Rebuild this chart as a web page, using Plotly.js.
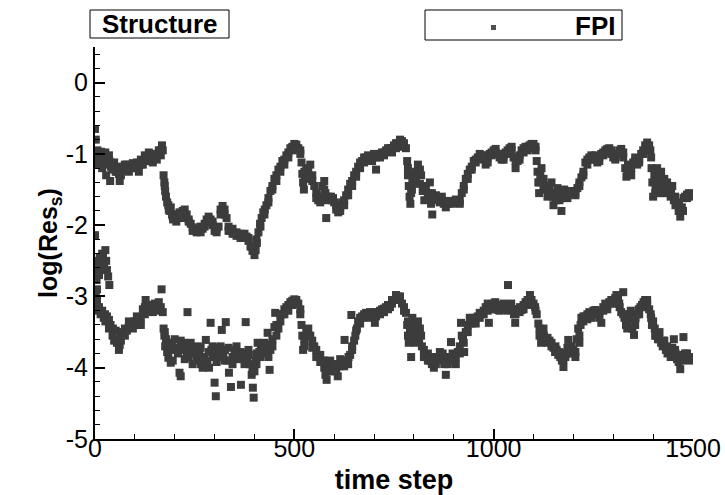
<!DOCTYPE html>
<html>
<head>
<meta charset="utf-8">
<script src="https://cdn.plot.ly/plotly-3.0.1.min.js"></script>
<style>
html,body{margin:0;padding:0;background:#fff;}
#chart{width:725px;height:495px;}
</style>
</head>
<body>
<div id="chart"></div>
<script>
// ---- data ----
const xTickVals = [0, 500, 1000, 1500];
const yTickVals = [-5, -4, -3, -2, -1, 0];
const legendLabels = ["Structure", "FPI"];

// upper residual band (time step, log value)
const upperT = [0,2,4,6,8,10,12,15,18,20,23,26,28,30,33,36,38,40,44,48,52,56,60,62,65,70,75,80,85,90,95,100,105,110,115,120,125,130,135,140,145,150,155,160,165,168,170,
172,174,176,178,181,184,187,190,193,196,200,204,208,212,216,220,225,230,235,240,245,250,255,260,265,270,275,280,285,290,295,300,305,310,315,320,325,330,335,340,345,350,355,360,365,370,375,380,385,390,395,400,
403,406,410,414,418,422,426,430,435,440,445,450,455,460,465,470,475,480,485,490,495,500,505,510,515,518,520,522,524,527,530,535,540,545,550,555,560,565,570,575,578,580,583,587,592,597,600,605,610,615,620,625,630,635,640,645,650,655,660,665,670,675,680,685,690,695,700,705,710,715,720,725,730,735,740,745,750,755,760,765,770,775,780,
783,785,787,789,791,793,796,800,805,810,815,818,822,826,830,835,840,843,846,850,855,860,865,870,875,880,885,890,895,900,905,910,915,920,925,930,935,940,945,950,955,960,965,970,975,980,985,990,995,1000,1005,1010,1015,1020,1025,1030,1035,1040,1045,1050,1055,1060,1065,1070,1075,1080,1085,1090,1095,1100,1105,
1108,1110,1112,1114,1117,1120,1125,1130,1135,1140,1145,1148,1150,1155,1160,1165,1170,1173,1177,1180,1185,1190,1195,1200,1205,1210,1215,1220,1225,1230,1235,1240,1245,1250,1255,1260,1265,1270,1275,1280,1285,1290,1295,1300,1305,1310,1315,1320,1325,1330,1333,1337,1340,1345,1350,1355,1360,1365,1370,1375,1380,1385,1390,1393,
1396,1398,1400,1403,1406,1410,1413,1416,1420,1424,1428,1432,1436,1440,1444,1448,1452,1456,1460,1464,1468,1472,1476,1480,1485,1490,1495];
const upperV = [-0.65,-0.80,-1.05,-0.95,-1.15,-1.00,-1.10,-0.97,-1.20,-1.02,-1.12,-0.98,-1.30,-1.05,-1.15,-1.10,-1.38,-1.18,-1.22,-1.12,-1.25,-1.18,-1.28,-1.38,-1.22,-1.18,-1.22,-1.15,-1.20,-1.17,-1.13,-1.18,-1.12,-1.25,-1.08,-1.15,-1.02,-1.10,-0.98,-1.05,-1.12,-1.00,-1.08,-0.95,-1.02,-0.88,-0.95,
-1.30,-1.40,-1.52,-1.60,-1.68,-1.72,-1.80,-1.75,-1.85,-1.92,-1.88,-1.95,-1.85,-1.82,-1.90,-1.80,-1.78,-1.85,-1.92,-1.98,-2.03,-2.06,-2.10,-2.08,-2.02,-2.05,-1.98,-1.92,-1.88,-1.92,-2.00,-2.08,-2.10,-2.02,-1.85,-1.73,-1.78,-1.90,-2.02,-2.08,-2.05,-2.12,-2.10,-2.14,-2.12,-2.16,-2.18,-2.16,-2.22,-2.30,-2.36,-2.42,
-2.35,-2.25,-2.10,-1.98,-1.90,-1.82,-1.78,-1.72,-1.62,-1.52,-1.45,-1.35,-1.30,-1.22,-1.18,-1.10,-1.08,-1.02,-0.98,-0.92,-0.90,-0.86,-0.87,-0.92,-1.00,-1.12,-1.28,-1.40,-1.50,-1.35,-1.20,-1.22,-1.15,-1.30,-1.45,-1.55,-1.65,-1.60,-1.45,-1.38,-1.55,-1.90,-1.65,-1.62,-1.60,-1.62,-1.68,-1.78,-1.82,-1.75,-1.68,-1.65,-1.58,-1.50,-1.42,-1.38,-1.30,-1.25,-1.18,-1.12,-1.10,-1.05,-1.05,-1.02,-1.05,-1.03,-1.00,-1.22,-1.02,-1.00,-0.98,-0.98,-0.95,-0.97,-0.92,-0.92,-0.88,-0.85,-0.85,-0.80,-0.82,-0.85,-0.92,
-1.10,-1.30,-1.45,-1.60,-1.70,-1.55,-1.40,-1.30,-1.25,-1.15,-1.42,-1.30,-1.52,-1.65,-1.48,-1.55,-1.40,-1.70,-1.85,-1.60,-1.58,-1.62,-1.68,-1.60,-1.66,-1.75,-1.70,-1.68,-1.66,-1.68,-1.68,-1.67,-1.66,-1.55,-1.45,-1.35,-1.28,-1.22,-1.18,-1.10,-1.08,-1.05,-1.00,-1.02,-1.08,-1.15,-1.05,-1.00,-0.98,-0.95,-0.93,-1.00,-1.05,-1.08,-1.02,-0.98,-0.95,-0.92,-0.90,-1.05,-1.20,-1.10,-1.02,-0.95,-0.92,-0.90,-0.90,-0.88,-0.86,-0.86,-0.95,
-1.10,-1.25,-1.40,-1.55,-1.30,-1.20,-1.35,-1.50,-1.60,-1.45,-1.40,-1.60,-1.72,-1.55,-1.48,-1.65,-1.80,-1.55,-1.50,-1.60,-1.58,-1.55,-1.56,-1.55,-1.55,-1.48,-1.40,-1.33,-1.25,-1.12,-1.08,-1.05,-1.02,-1.05,-1.08,-1.12,-1.05,-1.00,-0.98,-0.95,-0.93,-0.92,-1.00,-1.05,-1.08,-1.00,-0.95,-0.93,-1.05,-1.20,-1.32,-1.15,-1.25,-1.30,-1.12,-1.05,-1.15,-1.08,-1.00,-0.95,-0.88,-0.84,-0.88,-0.95,
-1.20,-1.40,-1.60,-1.30,-1.45,-1.20,-1.55,-1.35,-1.25,-1.45,-1.35,-1.55,-1.48,-1.50,-1.60,-1.45,-1.65,-1.72,-1.68,-1.80,-1.88,-1.75,-1.62,-1.60,-1.57,-1.55,-1.58];

// second reading across the upper band (opposite edge of the band)
const upperT2 = [5,15,25,35,45,55,65,75,85,95,105,115,125,135,145,155,165,
175,185,195,205,215,225,235,245,255,265,275,285,295,305,315,325,335,345,355,365,375,385,395,
405,415,425,435,445,455,465,475,485,495,505,515,525,535,545,555,565,575,585,595,605,615,625,635,645,655,665,675,685,695,705,715,725,735,745,755,765,775,
785,795,805,815,825,835,845,855,865,875,885,895,905,915,925,935,945,955,965,975,985,995,1005,1015,1025,1035,1045,1055,1065,1075,1085,1095,1105,
1115,1125,1135,1145,1155,1165,1175,1185,1195,1205,1215,1225,1235,1245,1255,1265,1275,1285,1295,1305,1315,1325,1335,1345,1355,1365,1375,1385,1395,
1405,1415,1425,1435,1445,1455,1465,1475,1485,1495];
const upperV2 = [-1.12,-1.05,-1.10,-1.02,-1.15,-1.25,-1.30,-1.15,-1.25,-1.20,-1.20,-1.15,-1.10,-1.08,-1.05,-1.00,-0.95,
-1.45,-1.78,-1.88,-1.90,-1.85,-1.85,-1.95,-2.08,-2.05,-2.10,-2.02,-1.95,-1.95,-2.05,-1.78,-1.85,-2.08,-2.12,-2.15,-2.18,-2.12,-2.18,-2.30,
-2.20,-2.02,-1.85,-1.68,-1.50,-1.38,-1.25,-1.15,-1.05,-0.95,-0.92,-0.95,-1.25,-1.30,-1.38,-1.62,-1.68,-1.50,-1.60,-1.65,-1.72,-1.80,-1.72,-1.58,-1.45,-1.32,-1.20,-1.12,-1.08,-1.10,-1.05,-1.05,-1.02,-0.92,-0.98,-0.92,-0.85,-0.90,
-1.20,-1.50,-1.35,-1.22,-1.45,-1.62,-1.55,-1.65,-1.62,-1.70,-1.66,-1.70,-1.64,-1.70,-1.50,-1.35,-1.22,-1.12,-1.05,-1.02,-1.12,-1.02,-0.98,-1.00,-1.08,-1.00,-0.95,-1.10,-1.08,-0.98,-0.95,-0.92,-0.90,
-1.40,-1.45,-1.50,-1.55,-1.65,-1.55,-1.62,-1.62,-1.52,-1.58,-1.45,-1.30,-1.15,-1.08,-1.02,-1.10,-1.02,-0.98,-0.95,-1.02,-1.00,-0.98,-1.25,-1.20,-1.10,-1.12,-1.00,-0.90,-1.05,
-1.55,-1.40,-1.55,-1.40,-1.55,-1.60,-1.72,-1.80,-1.62,-1.60];

// lower residual band (time step, log value)
const lowerT = [0,1,2,3,4,6,8,10,12,15,18,20,23,26,28,30,33,36,5,7,10,14,18,22,26,30,35,39,44,48,52,56,60,62,65,70,75,80,85,90,95,100,105,110,115,120,125,127,130,135,140,145,150,155,160,163,167,170,
172,174,176,178,181,184,187,190,193,196,200,204,208,212,215,218,222,226,230,232,235,240,245,250,255,258,262,266,270,274,278,282,286,290,292,296,300,303,306,310,315,318,322,326,328,332,336,341,345,350,355,360,366,370,375,378,382,386,390,393,396,398,400,
403,406,408,412,416,420,424,428,433,436,438,440,445,450,452,455,460,465,470,475,480,485,490,495,500,505,510,515,518,520,522,525,530,535,540,545,550,555,560,565,570,575,578,581,585,590,595,600,605,609,613,618,622,626,628,632,636,640,643,645,650,653,657,660,665,670,675,680,685,690,695,700,702,706,710,715,720,725,730,735,740,745,750,755,760,765,770,775,780,
783,785,787,790,793,796,800,805,810,813,818,820,825,830,835,840,845,850,853,858,863,868,872,876,880,884,888,893,897,900,905,910,915,918,920,923,926,930,935,940,945,950,955,960,965,970,975,980,985,988,992,996,1000,1004,1008,1012,1016,1020,1025,1030,1036,1040,1044,1048,1051,1054,1058,1062,1066,1070,1075,1080,1085,1091,1095,1100,1104,1108,
1112,1115,1119,1122,1126,1130,1135,1140,1145,1150,1154,1158,1162,1167,1171,1175,1180,1184,1187,1190,1195,1200,1205,1208,1212,1215,1218,1220,1225,1230,1235,1240,1245,1250,1255,1260,1265,1270,1275,1280,1285,1290,1295,1300,1305,1308,1312,1316,1320,1325,1328,1332,1336,1340,1344,1348,1352,1356,1360,1364,1368,1372,1376,1380,1385,1390,1394,
1397,1400,1404,1408,1412,1416,1420,1424,1428,1432,1436,1440,1444,1448,1452,1456,1460,1464,1468,1472,1476,1480,1485,1490,1495];
const lowerV = [-2.14,-2.50,-2.95,-3.10,-2.77,-2.63,-2.55,-2.70,-2.45,-2.60,-2.40,-2.42,-2.55,-2.35,-2.50,-2.63,-2.72,-2.84,-3.05,-3.20,-3.15,-3.25,-3.20,-3.30,-3.35,-3.28,-3.33,-3.40,-3.55,-3.62,-3.48,-3.60,-3.75,-3.68,-3.55,-3.50,-3.45,-3.48,-3.42,-3.38,-3.40,-3.35,-3.28,-3.40,-3.30,-3.18,-3.15,-3.05,-3.20,-3.12,-3.15,-3.22,-3.10,-3.18,-3.08,-3.20,-2.90,-3.22,
-3.45,-3.55,-3.70,-3.60,-3.78,-3.86,-3.70,-3.93,-3.65,-3.75,-3.60,-3.72,-3.80,-4.07,-4.12,-3.75,-3.65,-3.70,-3.80,-3.22,-3.85,-3.65,-3.75,-3.80,-3.90,-3.70,-3.82,-3.95,-4.00,-3.85,-3.61,-3.90,-4.00,-3.37,-3.75,-3.85,-4.21,-4.40,-3.80,-3.72,-3.85,-3.47,-3.80,-3.75,-3.36,-3.90,-4.07,-4.27,-3.85,-3.75,-3.82,-3.88,-4.24,-3.80,-3.85,-3.36,-3.90,-3.82,-3.95,-4.10,-4.28,-4.42,-4.05,
-3.90,-3.80,-3.65,-3.78,-3.75,-3.72,-3.80,-3.70,-3.51,-3.68,-4.03,-3.75,-3.60,-3.43,-3.23,-3.55,-3.45,-3.35,-3.25,-3.18,-3.15,-3.12,-3.08,-3.06,-3.04,-3.05,-3.10,-3.18,-3.40,-3.55,-3.75,-3.60,-3.50,-3.45,-3.55,-3.62,-3.70,-3.75,-3.85,-3.82,-3.90,-4.00,-4.10,-4.17,-3.95,-3.90,-3.95,-4.00,-4.05,-4.12,-3.98,-3.95,-3.90,-3.61,-3.93,-3.90,-3.85,-3.82,-3.26,-3.75,-3.62,-3.55,-3.45,-3.35,-3.30,-3.28,-3.25,-3.23,-3.25,-3.22,-3.25,-3.22,-3.37,-3.25,-3.22,-3.20,-3.18,-3.17,-3.15,-3.12,-3.15,-3.10,-3.05,-2.98,-3.00,-3.05,-3.10,-3.15,-3.23,
-3.40,-3.55,-3.65,-3.45,-3.85,-3.30,-3.40,-3.50,-3.35,-3.60,-3.55,-3.70,-3.75,-3.85,-3.80,-3.90,-3.95,-4.00,-3.85,-3.90,-3.85,-3.85,-3.80,-3.95,-4.10,-3.85,-3.90,-3.64,-3.80,-3.90,-3.95,-3.78,-3.70,-3.37,-3.55,-3.60,-3.78,-3.50,-3.40,-3.30,-3.38,-3.35,-3.30,-3.28,-3.23,-3.25,-3.20,-3.15,-3.10,-3.37,-3.18,-3.12,-3.10,-3.08,-3.15,-3.19,-3.12,-3.15,-3.18,-3.15,-2.84,-3.12,-3.10,-3.18,-3.25,-3.37,-3.20,-3.18,-3.15,-3.19,-3.12,-3.08,-3.05,-2.98,-3.05,-3.10,-3.15,-3.25,
-3.38,-3.45,-3.65,-3.50,-3.55,-3.60,-3.65,-3.62,-3.70,-3.72,-3.78,-3.75,-3.82,-3.85,-3.90,-3.99,-3.85,-3.80,-3.61,-3.72,-3.80,-3.75,-3.85,-3.60,-3.45,-3.65,-3.40,-3.30,-3.35,-3.28,-3.25,-3.22,-3.25,-3.20,-3.19,-3.22,-3.30,-3.37,-3.15,-3.10,-3.12,-3.08,-3.10,-3.05,-3.02,-2.98,-3.05,-3.15,-3.22,-2.94,-3.30,-3.40,-3.35,-3.25,-3.20,-3.45,-3.54,-3.30,-3.25,-3.18,-3.15,-3.12,-3.08,-3.05,-3.10,-3.18,-3.25,
-3.40,-3.35,-3.45,-3.55,-3.60,-3.50,-3.65,-3.70,-3.62,-3.75,-3.80,-3.78,-3.85,-3.72,-3.60,-3.80,-3.88,-3.92,-4.02,-3.85,-3.57,-3.80,-3.85,-3.86,-3.85];

// second reading across the lower band
const lowerT2 = [5,15,25,35,45,55,65,75,85,95,105,115,125,135,145,155,165,
175,185,195,205,215,225,235,245,255,265,275,285,295,305,315,325,335,345,355,365,375,385,395,
405,415,425,435,445,455,465,475,485,495,505,515,525,535,545,555,565,575,585,595,605,615,625,635,645,655,665,675,685,695,705,715,725,735,745,755,765,775,
785,795,805,815,825,835,845,855,865,875,885,895,905,915,925,935,945,955,965,975,985,995,1005,1015,1025,1035,1045,1055,1065,1075,1085,1095,1105,
1115,1125,1135,1145,1155,1165,1175,1185,1195,1205,1215,1225,1235,1245,1255,1265,1275,1285,1295,1305,1315,1325,1335,1345,1355,1365,1375,1385,1395,
1405,1415,1425,1435,1445,1455,1465,1475,1485,1495];
const lowerV2 = [-2.90,-2.55,-3.25,-3.45,-3.45,-3.65,-3.62,-3.55,-3.35,-3.45,-3.38,-3.40,-3.25,-3.20,-3.12,-3.12,-3.15,
-3.50,-3.65,-3.90,-3.75,-3.62,-3.88,-3.70,-3.95,-3.78,-3.72,-3.95,-3.78,-3.70,-3.92,-3.70,-3.90,-3.72,-3.95,-3.70,-3.78,-3.95,-3.75,-4.05,
-3.95,-3.85,-3.65,-3.85,-3.70,-3.40,-3.25,-3.25,-3.20,-3.12,-3.10,-3.25,-3.70,-3.55,-3.72,-3.85,-3.92,-3.90,-4.05,-4.05,-3.95,-3.88,-3.98,-3.95,-3.70,-3.48,-3.38,-3.30,-3.28,-3.30,-3.28,-3.25,-3.22,-3.18,-3.05,-3.05,-3.00,-3.20,
-3.35,-3.55,-3.65,-3.45,-3.85,-3.90,-3.85,-3.95,-3.78,-3.85,-3.95,-3.85,-3.85,-3.80,-3.65,-3.50,-3.30,-3.38,-3.30,-3.25,-3.20,-3.18,-3.15,-3.20,-3.10,-3.20,-3.18,-3.25,-3.22,-3.18,-3.12,-3.12,-3.20,
-3.55,-3.45,-3.58,-3.65,-3.70,-3.78,-3.88,-3.72,-3.70,-3.78,-3.55,-3.28,-3.32,-3.30,-3.25,-3.25,-3.20,-3.18,-3.05,-3.10,-3.10,-3.25,-3.45,-3.30,-3.40,-3.25,-3.15,-3.05,-3.30,
-3.55,-3.60,-3.62,-3.70,-3.75,-3.75,-3.82,-3.90,-3.80,-3.90];

// ---- layout in pixels ----
const W = 725, H = 495;
const M = {l: 95, r: 32, t: 47, b: 56};
const PW = W - M.l - M.r, PH = H - M.t - M.b;
const px = x => (x - M.l) / PW;          // pixel -> paper x
const py = y => (H - M.b - y) / PH;      // pixel -> paper y

const FONT = 'Liberation Sans, Arial, Helvetica, sans-serif';
const markerStyle = {symbol: 'square', size: 8, color: '#3c3c3c', line: {width: 0}};

const traces = [
  {type: 'scatter', mode: 'markers', name: 'FPI', x: upperT.concat(upperT2), y: upperV.concat(upperV2),
   marker: markerStyle, showlegend: false, hoverinfo: 'x+y'},
  {type: 'scatter', mode: 'markers', name: 'FPI', x: lowerT.concat(lowerT2), y: lowerV.concat(lowerV2),
   marker: markerStyle, showlegend: false, hoverinfo: 'x+y'}
];

const layout = {
  width: W, height: H,
  margin: M,
  paper_bgcolor: '#fff', plot_bgcolor: '#fff',
  showlegend: false,
  font: {family: FONT, color: '#000', size: 25},
  xaxis: {
    range: [0, 1500], tickvals: xTickVals, ticktext: xTickVals.map(String),
    showline: true, linecolor: '#000', linewidth: 2,
    ticks: 'inside', ticklen: 10, tickwidth: 2, tickcolor: '#000',
    minor: {dtick: 100, ticks: 'inside', ticklen: 5, tickwidth: 1, tickcolor: '#000', showgrid: false},
    showgrid: false, zeroline: false,
    ticklabelstandoff: -14,
    tickfont: {family: FONT, size: 25, color: '#000'},
    title: {text: '<b>time step</b>', font: {family: FONT, size: 27, color: '#000'}, standoff: 9}
  },
  yaxis: {
    range: [-5, 0.5], tickvals: yTickVals, ticktext: yTickVals.map(String),
    showline: true, linecolor: '#000', linewidth: 2,
    ticks: 'inside', ticklen: 10, tickwidth: 2, tickcolor: '#000',
    minor: {dtick: 0.2, tick0: 0, ticks: 'inside', ticklen: 5, tickwidth: 1, tickcolor: '#000', showgrid: false},
    showgrid: false, zeroline: false,
    tickfont: {family: FONT, size: 25, color: '#000'},
    title: {text: '<b>log(Res<sub>s</sub>)</b>', font: {family: FONT, size: 25, color: '#000'}, standoff: 0}
  },
  shapes: [
    {type: 'rect', xref: 'paper', yref: 'paper', x0: px(90), x1: px(229), y0: py(38), y1: py(10),
     line: {color: '#000', width: 1}, fillcolor: 'rgba(0,0,0,0)'},
    {type: 'rect', xref: 'paper', yref: 'paper', x0: px(425), x1: px(622), y0: py(40), y1: py(10),
     line: {color: '#000', width: 1}, fillcolor: 'rgba(0,0,0,0)'},
    {type: 'rect', xref: 'paper', yref: 'paper', x0: px(491), x1: px(496), y0: py(30), y1: py(25),
     line: {width: 0}, fillcolor: '#505050'}
  ],
  annotations: [
    {xref: 'paper', yref: 'paper', x: px(159.5), y: py(24), text: '<b>' + legendLabels[0] + '</b>',
     showarrow: false, xanchor: 'center', yanchor: 'middle', font: {family: FONT, size: 26, color: '#000'}},
    {xref: 'paper', yref: 'paper', x: px(617), y: py(26), text: '<b>' + legendLabels[1] + '</b>',
     showarrow: false, xanchor: 'right', yanchor: 'middle', font: {family: FONT, size: 26, color: '#000'}}
  ]
};

Plotly.newPlot('chart', traces, layout, {staticPlot: true, displayModeBar: false});
</script>
</body>
</html>
